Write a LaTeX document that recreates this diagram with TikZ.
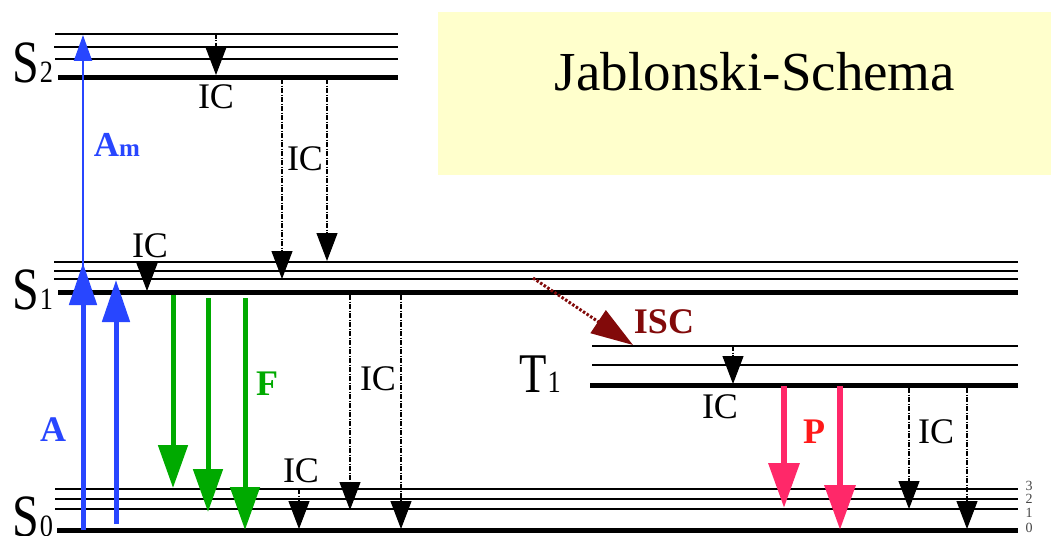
\documentclass[tikz,border=0pt]{standalone}
\usepackage{fontspec}
\usepackage{graphicx}
\setmainfont{Liberation Serif}
\usetikzlibrary{arrows.meta}
\definecolor{myblue}{RGB}{40,70,255}
\definecolor{mygreen}{RGB}{0,170,0}
\definecolor{mypink}{RGB}{255,40,105}
\definecolor{myred}{RGB}{255,25,25}
\definecolor{mydark}{RGB}{130,10,10}
\definecolor{myyellow}{RGB}{255,255,204}
\definecolor{mygray}{RGB}{70,70,70}
\begin{document}
\begin{tikzpicture}[x=1pt,y=-1pt,
  level/.style={line width=1.6pt},
  ground/.style={line width=5pt},
  icarrow/.style={line width=1.1pt, dash pattern=on 5pt off 1.5pt on 1pt off 1.5pt,
     -{Triangle[width=21pt,length=28pt]}},
  iclab/.style={anchor=base, inner sep=0pt, font=\fontsize{36pt}{36pt}\selectfont},
  boldlab/.style={anchor=base, inner sep=0pt, font=\fontsize{36pt}{36pt}\selectfont\bfseries},
  statelab/.style={anchor=base west, inner sep=0pt},
  numlab/.style={anchor=base, inner sep=0pt, text=mygray, font=\fontsize{14pt}{14pt}\selectfont},
  absarrow/.style={myblue, line width=5pt, -{Triangle[width=27pt,length=42pt]}},
  fluarrow/.style={mygreen, line width=5pt, -{Triangle[width=29pt,length=43pt]}},
  phoarrow/.style={mypink, line width=6.5pt, -{Triangle[width=30pt,length=45pt]}}
]
\path[use as bounding box, fill=white] (0,0) rectangle (1051,535);

% title box
\fill[myyellow] (438,12) rectangle (1051,175);
\node[anchor=base, inner sep=0pt, font=\fontsize{55pt}{55pt}\selectfont] (title) at (755,90) {Jablonski-Schema};

% S2 levels
\draw[level] (55,34) -- (398,34);
\draw[level] (54,47) -- (398,47);
\draw[level] (55,59) -- (398,59);
\draw[ground] (58,77) -- (398,77);
% S1 levels
\draw[level] (54,262) -- (1018,262);
\draw[level] (54,271) -- (1018,271);
\draw[level] (54,279) -- (1018,279);
\draw[ground] (58,292) -- (1018,292);
% T1 levels
\draw[level] (592,346) -- (1018,346);
\draw[level] (592,365) -- (1018,365);
\draw[ground] (590,385) -- (1018,385);
% S0 levels
\draw[level] (55,489) -- (1018,489);
\draw[level] (55,499) -- (1018,499);
\draw[level] (55,509) -- (1018,509);
\draw[ground] (57,530) -- (1018,530);

% state labels
\node[statelab] (s2) at (12,82) {\scalebox{0.8}[1]{\fontsize{60pt}{60pt}\selectfont S}\kern1pt\scalebox{0.85}[1]{\fontsize{31pt}{31pt}\selectfont 2}};
\node[statelab] (s1) at (12,309) {\scalebox{0.8}[1]{\fontsize{60pt}{60pt}\selectfont S}\kern1pt\scalebox{0.85}[1]{\fontsize{31pt}{31pt}\selectfont 1}};
\node[statelab] (s0) at (12,536) {\scalebox{0.8}[1]{\fontsize{60pt}{60pt}\selectfont S}\kern1pt\scalebox{0.85}[1]{\fontsize{31pt}{31pt}\selectfont 0}};
\node[statelab] (t1) at (519,392) {\scalebox{0.8}[1]{\fontsize{56pt}{56pt}\selectfont T}\kern1pt\scalebox{0.85}[1]{\fontsize{31pt}{31pt}\selectfont 1}};

% vibrational numbers
\node[numlab] (n3) at (1029,490) {3};
\node[numlab] (n2) at (1029,503) {2};
\node[numlab] (n1) at (1029,517) {1};
\node[numlab] (n0) at (1029,532) {0};

% absorption
\draw[myblue, line width=2pt, -{Triangle[width=18pt,length=26pt]}] (83,530) -- (83,35);
\draw[absarrow] (83,530) -- (83,263);
\draw[absarrow] (116,524) -- (116,280);
\node[anchor=base, inner sep=0pt, text=myblue] (am) at (117,156) {\fontsize{35pt}{35pt}\selectfont\bfseries A\fontsize{25pt}{25pt}\selectfont m};
\node[boldlab, text=myblue] (alab) at (53,441) {A};

% fluorescence
\draw[fluarrow] (173,295) -- (173,488);
\draw[fluarrow] (208,298) -- (208,512);
\draw[fluarrow] (245,298) -- (245,530);
\node[boldlab, text=mygreen] (flab) at (267,395) {F};

% phosphorescence
\draw[phoarrow] (784,386) -- (784,508);
\draw[phoarrow] (840,386) -- (840,530);
\node[boldlab, text=myred] (plab) at (814,443) {P};

% ISC
\draw[mydark, line width=3pt, dash pattern=on 2.5pt off 1.8pt, -{Triangle[width=27pt,length=42pt]}] (533,278) -- (633,345);
\node[boldlab, text=mydark] (isc) at (664,333) {ISC};

% internal conversion
\draw[icarrow] (216,34) -- (216,75);
\node[iclab] (ic1) at (216,108) {IC};
\draw[icarrow] (282,79) -- (282,279);
\draw[icarrow] (327,79) -- (327,261);
\node[iclab] (ic2) at (305,170) {IC};
\draw[icarrow] (147,262) -- (147,291);
\node[iclab] (ic3) at (150,257) {IC};
\draw[icarrow] (350,295) -- (350,510);
\draw[icarrow] (401,295) -- (401,529);
\node[iclab] (ic4) at (378,390) {IC};
\draw[icarrow] (299,489) -- (299,529);
\node[iclab] (ic5) at (301,482) {IC};
\draw[icarrow] (733,346) -- (733,384);
\node[iclab] (ic6) at (720,418) {IC};
\draw[icarrow] (909,388) -- (909,509);
\draw[icarrow] (967,388) -- (967,529);
\node[iclab] (ic7) at (936,443) {IC};
\end{tikzpicture}
\end{document}
